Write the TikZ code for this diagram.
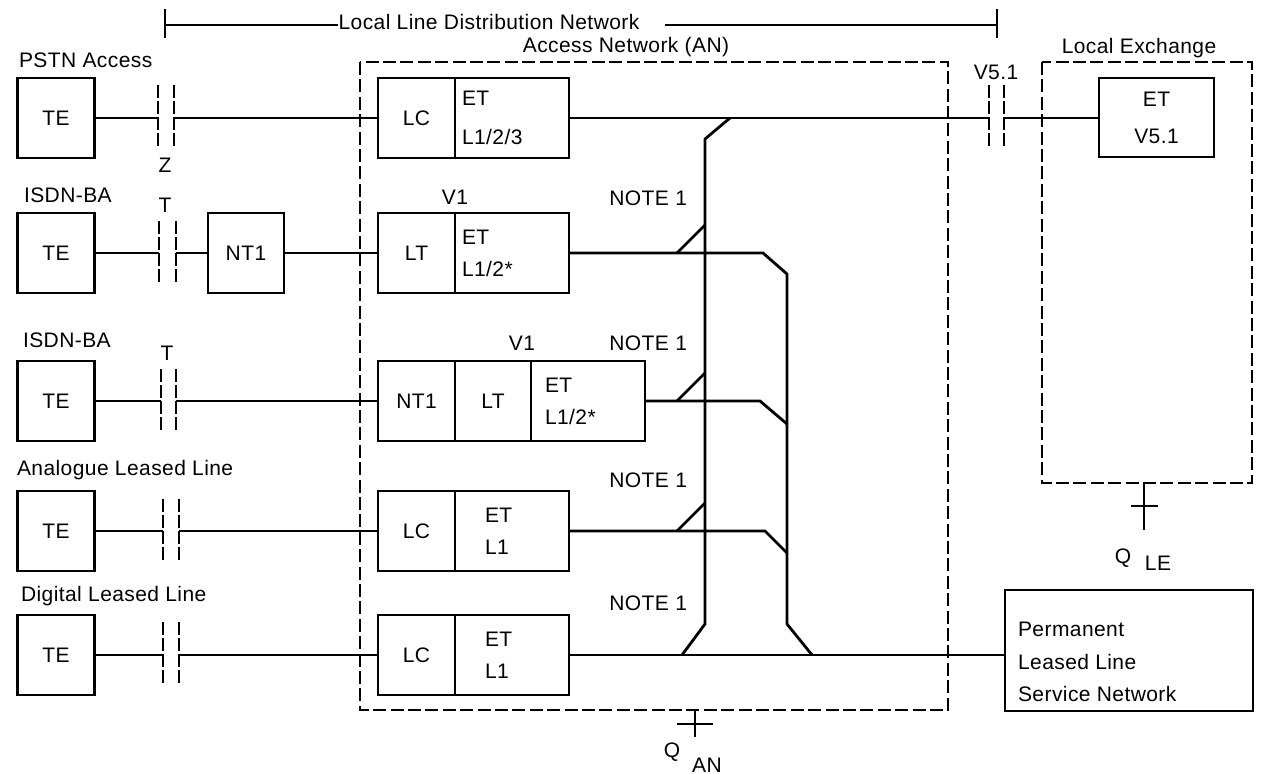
\documentclass[tikz,border=0pt]{standalone}
\usepackage{fontspec}
\setmainfont{Liberation Sans}[LetterSpace=2]
\usetikzlibrary{positioning}
\newcommand\diagfont{\fontsize{10.5pt}{12.6pt}\selectfont}
\tikzset{
  every node/.style={font=\diagfont},
  unit/.style={draw, line width=1.4pt, minimum width=38.5pt, minimum height=40pt, inner sep=0pt, outer sep=0pt},
  link/.style={line width=1.4pt},
  bar/.style={line width=1.4pt, dash pattern=on 6.5pt off 1.5pt},
  area/.style={line width=1.4pt, dash pattern=on 6.5pt off 2.2pt},
}
\begin{document}
\begin{tikzpicture}[x=0.5pt, y=-0.5pt]
    \useasboundingbox (0,0) rectangle (1261,774);

    % Local line distribution network span
    \coordinate (span0) at (165,25);
    \coordinate (span1) at (338,25);
    \coordinate (span2) at (665,25);
    \coordinate (span3) at (997,25);
    \draw[link] (165,9) -- (165,38);
    \draw[link] (997,9) -- (997,38);
    \draw[link] (span0) -- (span1);
    \draw[link] (span2) -- (span3);
    \node (spanlbl) at (489,22) {Local Line Distribution Network};

    % Access network and local exchange (dashed areas)
    \draw[area] (360,62) rectangle (948,710);
    \node (anlbl) at (626,47) {Access Network (AN)};
    \draw[area] (1042,62) rectangle (1252,483);
    \node (lelbl) at (1139,48) {Local Exchange};

    % User side labels
    \node[anchor=west] (pstn) at (12,60) {PSTN Access};
    \node[anchor=west] (isdn1) at (17,195) {ISDN-BA};
    \node[anchor=west] (isdn2) at (16,340) {ISDN-BA};
    \node[anchor=west] (alease) at (10,470) {Analogue Leased Line};
    \node[anchor=west] (dlease) at (14,596) {Digital Leased Line};

    % Terminal equipment
    \node[unit] (te1) at (56,118) {TE};
    \node[unit] (te2) at (56,253) {TE};
    \node[unit] (te3) at (56,401) {TE};
    \node[unit] (te4) at (56,531) {TE};
    \node[unit] (te5) at (56,655) {TE};
    \node[unit, minimum width=38pt] (nt1a) at (246,253) {NT1};

    % Interfaces at the user side
    \draw[bar] (158,85) -- (158,148);
    \draw[bar] (174,85) -- (174,148);
    \coordinate (z1a) at (158,118);
    \coordinate (z1b) at (174,118);
    \node (zlbl) at (165,165) {Z};
    \draw[bar] (159,221) -- (159,284);
    \draw[bar] (176,221) -- (176,284);
    \coordinate (t2a) at (159,253);
    \coordinate (t2b) at (176,253);
    \node (tlbl2) at (165,205) {T};
    \draw[bar] (161,369) -- (161,432);
    \draw[bar] (176,369) -- (176,432);
    \coordinate (t3a) at (161,401);
    \coordinate (t3b) at (176,401);
    \node (tlbl3) at (167,353) {T};
    \draw[bar] (163,499) -- (163,562);
    \draw[bar] (179,499) -- (179,562);
    \coordinate (i4a) at (163,531);
    \coordinate (i4b) at (179,531);
    \draw[bar] (163,622) -- (163,685);
    \draw[bar] (179,622) -- (179,685);
    \coordinate (i5a) at (163,655);
    \coordinate (i5b) at (179,655);

    % Access network units
    \node[unit] (lc1) at (416.5,118) {LC};
    \node[unit, right=0pt of lc1, text width=50pt, inner xsep=3.5pt, align=left] (et1) {ET\\[7pt]L1/2/3};
    \node[unit] (lt2) at (416.5,253) {LT};
    \node[unit, right=0pt of lt2, text width=50pt, inner xsep=3.5pt, align=left] (et2) {ET\\[3.5pt]L1/2*};
    \node (v1a) at (455,197) {V1};
    \node[unit] (nt1b) at (416.5,401) {NT1};
    \node[unit, right=0pt of nt1b, minimum width=38pt] (lt3) {LT};
    \node[unit, right=0pt of lt3, text width=43pt, inner xsep=7pt, align=left] (et3) {ET\\[3.5pt]L1/2*};
    \node (v1b) at (522,343) {V1};
    \node[unit] (lc4) at (416.5,531) {LC};
    \node[unit, right=0pt of lc4, text width=27pt, inner xsep=15pt, align=left] (et4) {ET\\[3.5pt]L1};
    \node[unit] (lc5) at (416.5,655) {LC};
    \node[unit, right=0pt of lc5, text width=27pt, inner xsep=15pt, align=left] (et5) {ET\\[3.5pt]L1};

    % Local exchange and leased line network
    \node[unit, minimum width=57.5pt, minimum height=39.5pt, align=center] (etle) at (1156.5,117.5) {ET\\[6pt]V5.1};
    \draw[bar] (989,85) -- (989,148);
    \draw[bar] (1004,85) -- (1004,148);
    \coordinate (v5a) at (989,118);
    \coordinate (v5b) at (1004,118);
    \node (v5lbl) at (996,72) {V5.1};
    \node[unit, minimum width=124pt, minimum height=60.5pt] (pll) at (1129,650.5) {};
    \node[anchor=west, align=left] (plltxt) at (1011,662) {Permanent\\[3.5pt]Leased Line\\[3.5pt]Service Network};

    % Lines to the access network
    \draw[link] (te1.east) -- (z1a);
    \draw[link] (z1b) -- (lc1.west);
    \draw[link] (te2.east) -- (t2a);
    \draw[link] (t2b) -- (nt1a.west);
    \draw[link] (nt1a.east) -- (lt2.west);
    \draw[link] (te3.east) -- (t3a);
    \draw[link] (t3b) -- (nt1b.west);
    \draw[link] (te4.east) -- (i4a);
    \draw[link] (i4b) -- (lc4.west);
    \draw[link] (te5.east) -- (i5a);
    \draw[link] (i5b) -- (lc5.west);

    % Cross connect inside the AN
    \coordinate (a0) at (730,118);
    \coordinate (a1) at (705,139);
    \coordinate (a2) at (705,624);
    \coordinate (a3) at (682,655);
    \coordinate (b1) at (763,253);
    \coordinate (b2) at (787,274);
    \coordinate (b3) at (787,624);
    \coordinate (b4) at (812,655);
    \draw[link] (et1.east) -- (v5a);
    \draw[link] (v5b) -- (v5b -| etle.west);
    \draw[link, line join=round] (a0) -- (a1) -- (a2) -- (a3);
    \draw[link, line join=round] (et2.east) -- (b1) -- (b2) -- (b3) -- (b4);
    \draw[link] (et3.east) -- (760,401) -- (787,424);
    \draw[link] (et4.east) -- (765,531) -- (787,553);
    \draw[link] (et5.east) -- (et5.east -| pll.west);
    \draw[link] (705,225) -- (677,253);
    \draw[link] (705,373) -- (677,401);
    \draw[link] (705,503) -- (677,531);
    \node[anchor=east] (note2) at (694,198) {NOTE 1};
    \node[anchor=east] (note3) at (694,343) {NOTE 1};
    \node[anchor=east] (note4) at (694,480) {NOTE 1};
    \node[anchor=east] (note5) at (694,603) {NOTE 1};

    % Q interfaces
    \draw[link] (695,710) -- (695,737);
    \draw[link] (677,724) -- (713,724);
    \node (qan) at (672,752) {Q};
    \node (qansub) at (707,765) {AN};
    \draw[link] (1144,483) -- (1144,530);
    \draw[link] (1131,506) -- (1158,506);
    \node (qle) at (1123,558) {Q};
    \node (qlesub) at (1158,563) {LE};
\end{tikzpicture}
\end{document}
